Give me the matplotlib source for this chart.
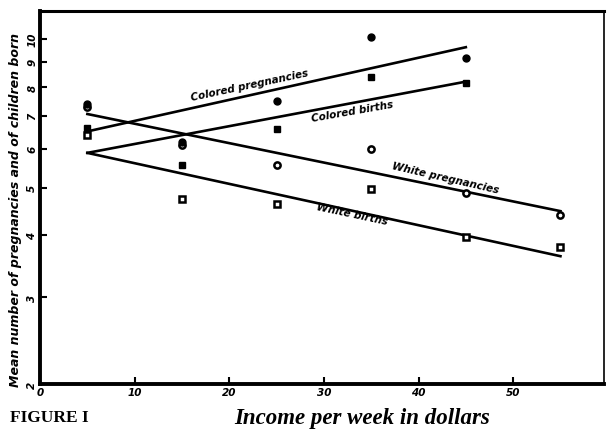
import matplotlib.pyplot as plt
from matplotlib.ticker import NullLocator

# income classes (mid points, dollars per week)
income = [5, 15, 25, 35, 45, 55]

# mean counts (None = no point drawn)
colored_preg = [7.4, 6.2, 7.5, 10.1, 9.15, None]
colored_births = [6.6, 5.55, 6.57, 8.38, 8.14, None]
white_preg = [7.3, 6.1, 5.55, 5.99, 4.88, 4.4]
white_births = [6.4, 4.74, 4.63, 4.97, 3.97, 3.79]

# fitted lines, (start, end) of each one
colored_preg_fit_x = [5, 45]
colored_preg_fit_y = [6.5, 9.63]
colored_births_fit_x = [5, 45]
colored_births_fit_y = [5.88, 8.2]
white_preg_fit_x = [5, 55]
white_preg_fit_y = [7.05, 4.48]
white_births_fit_x = [5, 55]
white_births_fit_y = [5.88, 3.63]

x_ticks = [0, 10, 20, 30, 40, 50]
y_ticks = [2, 3, 4, 5, 6, 7, 8, 9, 10]

hand = dict(family="DejaVu Sans", style="italic", weight="bold", fontsize=7.5)


def pts(xs, ys):
    X = list()
    Y = list()
    for x, y in zip(xs, ys):
        if y is not None:
            X.append(x)
            Y.append(y)
    return X, Y


fig = plt.figure(figsize=(6.07, 4.31), dpi=100)
ax = fig.add_axes([0.066, 0.107, 0.929, 0.865])
ax.set_yscale("log")

lw = 1.9
ax.plot(colored_preg_fit_x, colored_preg_fit_y, color="black", lw=lw)
ax.plot(colored_births_fit_x, colored_births_fit_y, color="black", lw=lw)
ax.plot(white_preg_fit_x, white_preg_fit_y, color="black", lw=lw)
ax.plot(white_births_fit_x, white_births_fit_y, color="black", lw=lw)

X, Y = pts(income, white_preg)
ax.plot(X, Y, "o", ms=4.5, mfc="white", mec="black", mew=1.8)
X, Y = pts(income, white_births)
ax.plot(X, Y, "s", ms=4.5, mfc="white", mec="black", mew=1.8)
X, Y = pts(income, colored_preg)
ax.plot(X, Y, "o", ms=5, color="black")
X, Y = pts(income, colored_births)
ax.plot(X, Y, "s", ms=5, color="black")

# hand lettered labels along the lines
ax.text(22.1, 8.07, "Colored pregnancies", rotation=12, ha="center", va="center", **hand)
ax.text(33.0, 7.15, "Colored births", rotation=10, ha="center", va="center", **hand)
ax.text(42.8, 5.25, "White pregnancies", rotation=-13, ha="center", va="center", **hand)
ax.text(33.0, 4.42, "White births", rotation=-12, ha="center", va="center", **hand)

ax.set_xlim(0, 59.6)
ax.set_ylim(2, 11.4)

ax.set_xticks(x_ticks)
ax.set_xticklabels([str(t) for t in x_ticks], **hand)
ax.set_yticks(y_ticks)
ax.set_yticklabels([str(t) for t in y_ticks], rotation=90, va="center", **hand)
ax.yaxis.set_minor_locator(NullLocator())
ax.tick_params(direction="in", length=5, width=1.5, pad=2)

ax.spines["left"].set_linewidth(2.8)
ax.spines["bottom"].set_linewidth(2.8)
ax.spines["top"].set_linewidth(2.2)
ax.spines["right"].set_linewidth(1.2)

ax.set_ylabel("Mean number of pregnancies and of children born",
              family="DejaVu Sans", style="italic", weight="bold", fontsize=9)
ax.yaxis.set_label_coords(-0.032, 0.47)

fig.text(0.597, 0.03, "Income per week in dollars", family="Liberation Serif",
         style="italic", weight="bold", fontsize=16.5, ha="center", va="center")
fig.text(0.016, 0.03, "FIGURE I", family="Liberation Serif", weight="bold",
         fontsize=12.5, ha="left", va="center")

fig.savefig("out.png", dpi=100)
